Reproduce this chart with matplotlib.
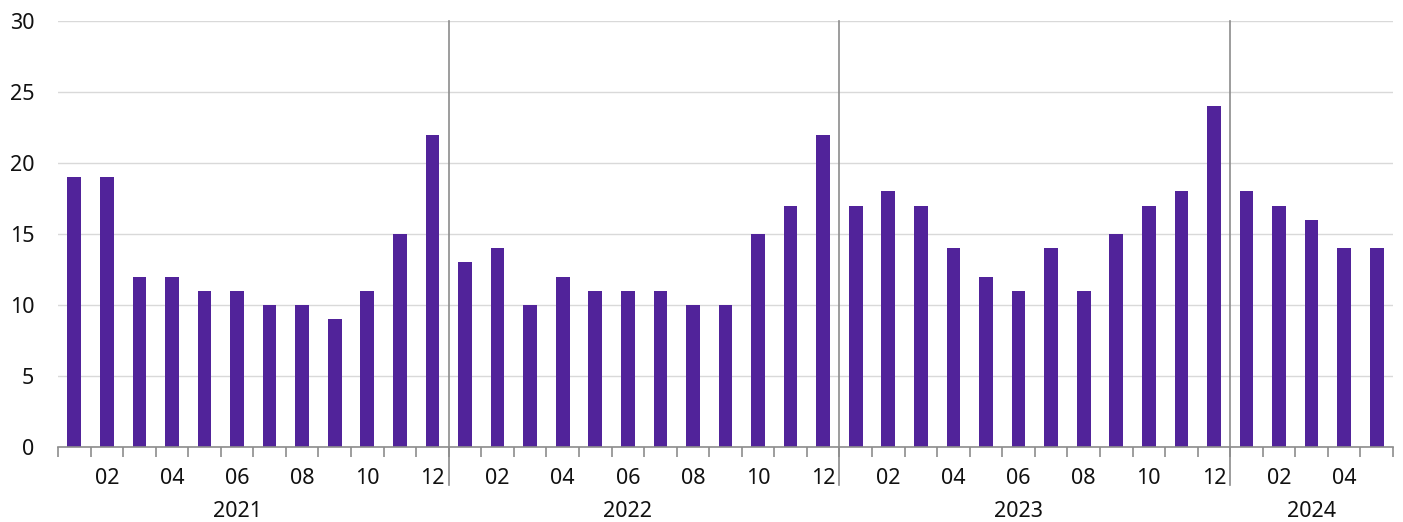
import matplotlib
matplotlib.use("Agg")
import matplotlib.pyplot as plt
import matplotlib.transforms as mtransforms

plt.rcParams['font.family'] = ['Noto Sans', 'DejaVu Sans']

years = ["2021", "2022", "2023", "2024"]
months_per_year = [12, 12, 12, 5]
values_2021 = [19, 19, 12, 12, 11, 11, 10, 10, 9, 11, 15, 22]
values_2022 = [13, 14, 10, 12, 11, 11, 11, 10, 10, 15, 17, 22]
values_2023 = [17, 18, 17, 14, 12, 11, 14, 11, 15, 17, 18, 24]
values_2024 = [18, 17, 16, 14, 14]
yticks = [0, 5, 10, 15, 20, 25, 30]

values = values_2021 + values_2022 + values_2023 + values_2024
month_nums = []
for n in months_per_year:
    month_nums += list(range(1, n + 1))
x = list(range(len(values)))

fig = plt.figure(figsize=(14.03, 5.22), dpi=100)
ax = fig.add_axes([58 / 1403, 75 / 522, (1393 - 58) / 1403, (447 - 21) / 522])

ax.bar(x, values, width=0.42, color="#51239a", zorder=3)
ax.set_xlim(-0.5, len(values) - 0.5)
ax.set_ylim(0, 30)
ax.set_yticks(yticks)
ax.yaxis.grid(True, color="#d9d9d9", linewidth=1, zorder=0)
ax.tick_params(axis='y', length=0, pad=17, labelsize=15.5, labelcolor="#111111")
for s in ["top", "right", "left"]:
    ax.spines[s].set_visible(False)
ax.spines["bottom"].set_color("#8c8c8c")
ax.spines["bottom"].set_linewidth(1.2)
ax.spines["bottom"].set_zorder(4)

# minor ticks at bar boundaries
ax.set_xticks([i - 0.5 for i in range(len(values) + 1)], minor=True)
ax.tick_params(axis='x', which='minor', length=7, color="#8c8c8c", width=1.2)
# month labels at even months
pos = [i for i, m in enumerate(month_nums) if m % 2 == 0]
ax.set_xticks(pos)
ax.set_xticklabels([f"{month_nums[i]:02d}" for i in pos])
ax.tick_params(axis='x', which='major', length=0, pad=15, labelsize=15.5, labelcolor="#111111")

trans = mtransforms.blended_transform_factory(ax.transData, ax.transAxes)
start = 0
for yr, n in zip(years, months_per_year):
    if start > 0:
        ax.plot([start - 0.5, start - 0.5], [1, -0.089], transform=trans,
                color="#8c8c8c", linewidth=1.2, clip_on=False, zorder=5)
    mid = start + (n - 1) // 2
    ax.text(mid, -0.152, yr, transform=trans, ha="center", va="center",
            fontsize=15.5, color="#111111")
    start += n

fig.savefig("out.png", dpi=100)
